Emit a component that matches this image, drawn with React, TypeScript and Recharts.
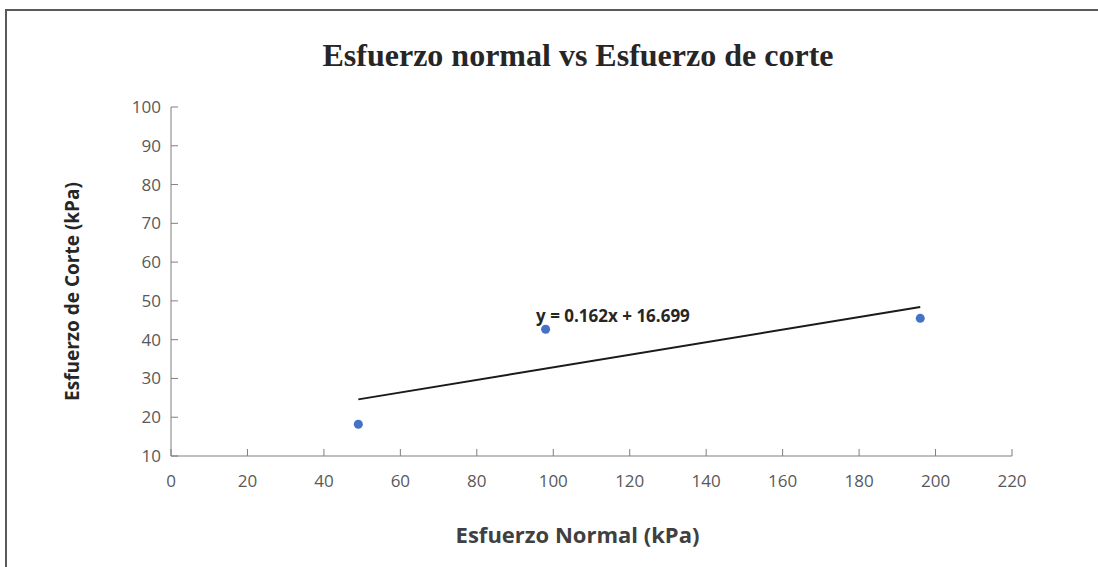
import { ScatterChart, Scatter, XAxis, YAxis, ReferenceDot } from 'recharts'

const normalStress = [49, 98, 196]
const shearStress = [18.2, 42.7, 45.5]

// trendline endpoints (y = 0.162x + 16.699)
const trendX = [49, 196]
const trendY = [24.6, 48.4]

const xTicks = [0, 20, 40, 60, 80, 100, 120, 140, 160, 180, 200, 220]
const yTicks = [10, 20, 30, 40, 50, 60, 70, 80, 90, 100]

const points = normalStress.map((x, i) => ({ x, y: shearStress[i] }))
const trend = trendX.map((x, i) => ({ x, y: trendY[i] }))

const AXIS_COLOR = '#7f7f7f'
const TICK_TEXT = '#595959'
const FONT = '"Open Sans", "Liberation Sans", sans-serif'

function YTick(props: any) {
  const { x, y, payload } = props
  return (
    <g>
      <line x1={x} y1={y} x2={x + 7} y2={y} stroke={AXIS_COLOR} strokeWidth={1} />
      <text x={x - 10} y={y} dy={6} textAnchor="end" fill={TICK_TEXT} fontSize={17} fontFamily={FONT}>
        {payload.value}
      </text>
    </g>
  )
}

function XTick(props: any) {
  const { x, y, payload } = props
  return (
    <g>
      <line x1={x} y1={y} x2={x} y2={y - 7} stroke={AXIS_COLOR} strokeWidth={1} />
      <text x={x} y={y + 31} textAnchor="middle" fill={TICK_TEXT} fontSize={17} fontFamily={FONT}>
        {payload.value}
      </text>
    </g>
  )
}

export default function App() {
  return (
    <div style={{ position: 'absolute', left: 0, top: 0, width: 1098, height: 567, background: '#fff' }}>
      <div
        style={{
          position: 'absolute',
          left: 5,
          top: 9,
          width: 1093,
          height: 558,
          borderTop: '2px solid #5a5a5a',
          borderLeft: '2px solid #5a5a5a',
        }}
      />
      <div
        style={{
          position: 'absolute',
          left: 0,
          top: 37,
          width: 1156,
          textAlign: 'center',
          fontFamily: '"Liberation Serif", "DejaVu Serif", serif',
          fontWeight: 'bold',
          fontSize: 32,
          color: '#262626',
        }}
      >
        Esfuerzo normal vs Esfuerzo de corte
      </div>
      <div style={{ position: 'absolute', left: 0, top: 0 }}>
        <ScatterChart width={1098} height={567} margin={{ top: 107, right: 86, left: 61, bottom: 21 }}>
          <XAxis
            type="number"
            dataKey="x"
            domain={[0, 220]}
            ticks={xTicks}
            interval={0}
            height={90}
            tickSize={0}
            tickMargin={0}
            tickLine={false}
            tick={<XTick />}
            stroke={AXIS_COLOR}
            allowDataOverflow
            label={{
              value: 'Esfuerzo Normal (kPa)',
              position: 'insideBottom',
              offset: 3,
              dx: -14,
              style: { fontFamily: FONT, fontWeight: 'bold', fontSize: 22, fill: '#404040' },
            }}
          />
          <YAxis
            type="number"
            dataKey="y"
            domain={[10, 100]}
            ticks={yTicks}
            interval={0}
            width={110}
            tickSize={0}
            tickMargin={0}
            tickLine={false}
            tick={<YTick />}
            stroke={AXIS_COLOR}
            allowDataOverflow
            label={{
              value: 'Esfuerzo de Corte (kPa)',
              angle: -90,
              position: 'insideLeft',
              offset: 11,
              dy: 10,
              style: { textAnchor: 'middle', fontFamily: FONT, fontWeight: 'bold', fontSize: 19, fill: '#262626' },
            }}
          />
          <Scatter
            data={trend}
            line={{ stroke: '#1a1a1a', strokeWidth: 2 }}
            shape={() => <g />}
            isAnimationActive={false}
          />
          <Scatter data={points} fill="#4472c4" isAnimationActive={false} shape="circle" />
          <ReferenceDot
            x={95.5}
            y={46.2}
            r={0}
            ifOverflow="visible"
            label={{
              value: 'y = 0.162x  + 16.699',
              position: 'right',
              offset: 0,
              style: { fontFamily: FONT, fontWeight: 'bold', fontSize: 17, fill: '#262626', whiteSpace: 'pre' },
            }}
          />
        </ScatterChart>
      </div>
    </div>
  )
}
